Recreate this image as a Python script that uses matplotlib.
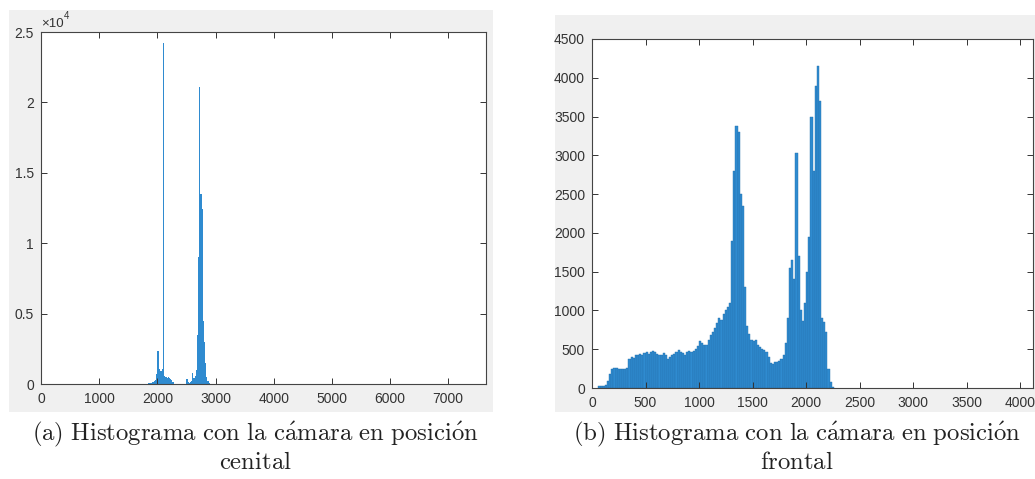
import matplotlib.pyplot as plt
from matplotlib.patches import Rectangle

plt.rcParams['mathtext.fontset'] = 'cm'
plt.rcParams['font.family'] = ['Liberation Sans', 'DejaVu Sans']

# Histograma (a): cámara cenital, bins de 20 niveles
cen_edges0 = 1840
cen_width = 20
cen_counts = [40, 60, 100, 120, 150, 200, 300, 700, 2350, 1100,
              950, 950, 1100, 24200, 600, 500, 450, 500, 450, 380,
              300, 120, 30, 0, 0, 0, 0, 0, 0, 0,
              0, 0, 20, 330, 150, 100, 120, 200, 750, 400,
              600, 1000, 3500, 9000, 21100, 13500, 12400, 4500, 3000, 1500,
              500, 200, 60, 30]

# Histograma (b): cámara frontal
fro_edges0 = 60
fro_width = 20
fro_counts = [30, 30, 20, 40, 90, 180, 240, 260, 255, 250,
              245, 240, 250, 260, 380, 400, 390, 420, 430, 440,
              430, 450, 460, 440, 470, 480, 460, 440, 420, 430,
              450, 420, 380, 400, 420, 440, 470, 490, 470, 450,
              430, 460, 480, 470, 480, 500, 540, 600, 580, 560,
              560, 620, 680, 720, 780, 840, 900, 880, 960, 1000,
              1050, 1100, 1900, 2800, 3380, 3300, 2500, 2350, 1300, 800,
              700, 620, 600, 620, 560, 530, 500, 490, 470, 400,
              320, 310, 330, 340, 350, 380, 430, 580, 900, 1550,
              1650, 1400, 3030, 1700, 1000, 870, 1100, 1500, 1950, 3500,
              2800, 3900, 4150, 3700, 900, 850, 720, 250, 80, 15]

cen_xticks = [0, 1000, 2000, 3000, 4000, 5000, 6000, 7000]
cen_yticks = [0, 5000, 10000, 15000, 20000, 25000]
cen_yticklabels = ['0', '0.5', '1', '1.5', '2', '2.5']
fro_xticks = [0, 500, 1000, 1500, 2000, 2500, 3000, 3500, 4000]
fro_yticks = [0, 500, 1000, 1500, 2000, 2500, 3000, 3500, 4000, 4500]

# pies de figura (Computer Modern via mathtext)
cap_a = [r'$\mathrm{(a)\ Histograma\ con\ la\ c\acute{a}mara\ en\ posici\acute{o}n}$',
         r'$\mathrm{cenital}$']
cap_b = [r'$\mathrm{(b)\ Histograma\ con\ la\ c\acute{a}mara\ en\ posici\acute{o}n}$',
         r'$\mathrm{frontal}$']

W, H = 1035, 479
fig = plt.figure(figsize=(W / 100, H / 100), dpi=100)
fig.patch.set_facecolor('white')

def px(x0, y0, x1, y1):
    # caja en pixeles (origen arriba a la izquierda) -> coords de figura
    return [x0 / W, 1 - y1 / H, (x1 - x0) / W, (y1 - y0) / H]

# fondos grises de las ventanas de MATLAB
for box in [(9, 10, 493, 412), (555, 15, 1035, 412)]:
    l, b, w, h = px(*box)
    fig.patches.append(Rectangle((l, b), w, h, transform=fig.transFigure,
                                 facecolor='#f0f0f0', edgecolor='none', zorder=-5))

txt = '#333333'

def estilo(ax):
    ax.set_facecolor('white')
    ax.set_zorder(2)
    for s in ax.spines.values():
        s.set_color('#444444')
        s.set_linewidth(0.8)
    ax.tick_params(direction='in', length=4, width=0.7, colors=txt,
                   labelsize=10, top=True, right=True)
    ax.tick_params(axis='x', pad=6)
    ax.tick_params(axis='y', pad=5)

ax1 = fig.add_axes(px(41, 32, 486, 384))
lefts = [cen_edges0 + i * cen_width for i in range(len(cen_counts))]
ax1.bar(lefts, cen_counts, width=cen_width, align='edge',
        color='#2f8bd0', edgecolor='none', linewidth=0)
ax1.set_xlim(0, 7650)
ax1.set_ylim(0, 25000)
ax1.set_xticks(cen_xticks)
ax1.set_yticks(cen_yticks)
ax1.set_yticklabels(cen_yticklabels)
estilo(ax1)
# factor de escala del eje y
ax1.text(0.0, 1.006, '×10', transform=ax1.transAxes,
         fontsize=9.5, color=txt, ha='left', va='bottom')
ax1.text(0.052, 1.03, '4', transform=ax1.transAxes,
         fontsize=7, color=txt, ha='left', va='bottom')

ax2 = fig.add_axes(px(592, 39, 1033, 388))
lefts = [fro_edges0 + i * fro_width for i in range(len(fro_counts))]
ax2.bar(lefts, fro_counts, width=fro_width, align='edge',
        color='#2f8bd0', edgecolor='#2470ad', linewidth=0.3)
ax2.set_xlim(0, 4120)
ax2.set_ylim(0, 4500)
ax2.set_xticks(fro_xticks)
ax2.set_yticks(fro_yticks)
estilo(ax2)

for cx, lines in [(255, cap_a), (797, cap_b)]:
    fig.text(cx / W, 1 - 434 / H, lines[0], fontsize=17.8, ha='center',
             va='center', color='#222222')
    fig.text(cx / W, 1 - 462 / H, lines[1], fontsize=17.8, ha='center',
             va='center', color='#222222')

fig.savefig('out.png', dpi=100)
